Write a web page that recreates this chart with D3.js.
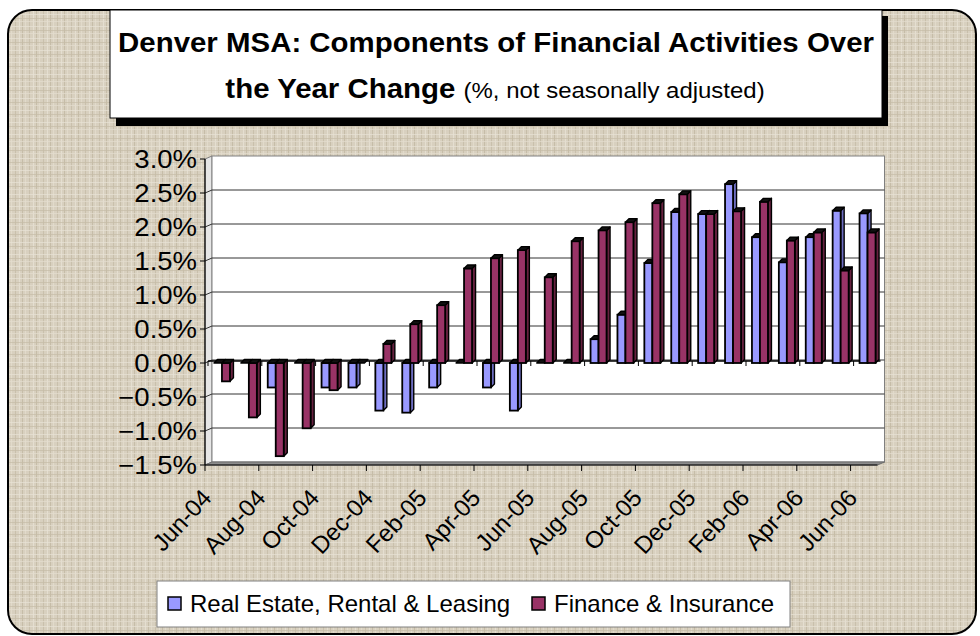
<!DOCTYPE html>
<html>
<head>
<meta charset="utf-8">
<script src="https://cdn.jsdelivr.net/npm/d3@7"></script>
<style>
  html, body { margin: 0; padding: 0; background: #fff; }
  svg { display: block; font-family: "Liberation Sans", Arial, sans-serif; }
</style>
</head>
<body>
<div id="chart"></div>
<script>
const categories = [
    "Jun-04", "Jul-04", "Aug-04", "Sep-04", "Oct-04", "Nov-04", "Dec-04",
    "Jan-05", "Feb-05", "Mar-05", "Apr-05", "May-05", "Jun-05", "Jul-05",
    "Aug-05", "Sep-05", "Oct-05", "Nov-05", "Dec-05",
    "Jan-06", "Feb-06", "Mar-06", "Apr-06", "May-06", "Jun-06"
];
// over the year change, percent
const realEstate = [
    0, 0, -0.36, 0, -0.36, -0.36, -0.7,
    -0.73, -0.36, 0, -0.36, -0.7, 0, 0,
    0.35, 0.71, 1.47, 2.22, 2.19,
    2.63, 1.85, 1.48, 1.85, 2.24, 2.2
];
const finance = [
    -0.27, -0.8, -1.37, -0.96, -0.4, 0, 0.28,
    0.57, 0.85, 1.39, 1.54, 1.66, 1.26, 1.79,
    1.95, 2.07, 2.35, 2.48, 2.19,
    2.23, 2.37, 1.8, 1.92, 1.36, 1.92
];
const yTicks = [-1.5, -1, -0.5, 0, 0.5, 1, 1.5, 2, 2.5, 3];
const seriesNames = ["Real Estate, Rental & Leasing", "Finance & Insurance"];
const seriesColors = ["#9999ff", "#993366"];
const sideColors = ["#6d6dc0", "#66213f"];

const W = 980, H = 636;
const wallDx = 7, wallDy = -3;   // back wall offset from the front axes
const depth = 3.5;               // bar depth
const barW = 8;

const svg = d3.select("#chart").append("svg")
    .attr("width", W).attr("height", H);

// linen texture
const defs = svg.append("defs");
const pat = defs.append("pattern")
    .attr("id", "linen").attr("patternUnits", "userSpaceOnUse")
    .attr("width", 14).attr("height", 12);
pat.append("rect").attr("width", 14).attr("height", 12).attr("fill", "#d8d0bf");
[[1, "#c6bca8"], [5, "#e7e1d4"], [8, "#c2b8a3"], [11, "#e3dccd"]].forEach(([x, c]) => {
    pat.append("rect").attr("x", x).attr("y", 0).attr("width", 1).attr("height", 12).attr("fill", c).attr("opacity", 0.8);
});
[[2, "#e9e3d6"], [6, "#c6bca7"], [9, "#e4ddcf"]].forEach(([y, c]) => {
    pat.append("rect").attr("x", 0).attr("y", y).attr("width", 14).attr("height", 1).attr("fill", c).attr("opacity", 0.7);
});

svg.append("rect")
    .attr("x", 8).attr("y", 10).attr("width", 968).attr("height", 624)
    .attr("rx", 24).attr("ry", 24)
    .attr("fill", "url(#linen)").attr("stroke", "#000").attr("stroke-width", 2);

// title box
svg.append("rect").attr("x", 116).attr("y", 16).attr("width", 772).attr("height", 110).attr("fill", "#000");
svg.append("rect").attr("x", 110).attr("y", 10).attr("width", 772).attr("height", 108)
    .attr("fill", "#fff").attr("stroke", "#000").attr("stroke-width", 1);

svg.append("text")
    .attr("transform", "translate(496,52) scale(1.09,1)")
    .attr("text-anchor", "middle")
    .attr("font-size", 27).attr("font-weight", "bold")
    .text("Denver MSA: Components of Financial Activities Over");

const sub = svg.append("text")
    .attr("transform", "translate(495,98) scale(1.09,1)")
    .attr("text-anchor", "middle");
sub.append("tspan").attr("font-size", 27).attr("font-weight", "bold").text("the Year Change ");
sub.append("tspan").attr("font-size", 22).text("(%, not seasonally adjusted)");

// scales (front plane)
const x = d3.scaleBand().domain(categories).range([205, 877.5]);
const y = d3.scaleLinear().domain([-1.5, 3]).range([465, 159]);
const x0 = x.range()[0], x1 = x.range()[1];
const yb = y(-1.5), yt = y(3);

const plot = svg.append("g");

// left wall
plot.append("polygon")
    .attr("points", [[x0, yt], [x0 + wallDx, yt + wallDy], [x0 + wallDx, yb + wallDy], [x0, yb]].join(" "))
    .attr("fill", "#e6e6e6").attr("stroke", "#808080");
// back wall
plot.append("rect")
    .attr("x", x0 + wallDx).attr("y", yt + wallDy)
    .attr("width", x1 - x0).attr("height", yb - yt)
    .attr("fill", "#fff").attr("stroke", "#808080");
// floor
plot.append("polygon")
    .attr("points", [[x0, yb], [x0 + wallDx, yb + wallDy], [x1 + wallDx, yb + wallDy], [x1, yb]].join(" "))
    .attr("fill", "#8c8c8c").attr("stroke", "#6e6e6e");

// gridlines on left and back walls
const grid = yTicks.filter(v => v > -1.5 && v < 3);
plot.selectAll(".grid").data(grid).join("polyline")
    .attr("points", v => [[x0, y(v)], [x0 + wallDx, y(v) + wallDy], [x1 + wallDx, y(v) + wallDy]].join(" "))
    .attr("fill", "none").attr("stroke", "#333").attr("stroke-width", 1);

// category axis through zero with ticks every second month
const evenBounds = d3.range(0, categories.length + 1, 2).map(i => x0 + i * x.bandwidth());
const zy = y(0) - 2;
plot.append("line")
    .attr("x1", x0 + 3).attr("x2", x1 + 3).attr("y1", zy).attr("y2", zy)
    .attr("stroke", "#000").attr("stroke-width", 1.5);
plot.selectAll(".ztick").data(evenBounds).join("line")
    .attr("x1", d => d + 3).attr("x2", d => d + 3).attr("y1", zy).attr("y2", zy + 5)
    .attr("stroke", "#000");

// 3D bars, drawn left to right so faces overlap correctly
const bars = [];
categories.forEach((c, i) => {
    const cx = x(c) + x.bandwidth() / 2;
    bars.push({ c, v: realEstate[i], s: 0, left: cx - 4.5 });
    bars.push({ c, v: finance[i], s: 1, left: cx - 4.5 + barW });
});

const barG = plot.selectAll(".bar").data(bars).join("g");
barG.each(function (d) {
    const g = d3.select(this);
    const top = y(Math.max(d.v, 0)), bot = y(Math.min(d.v, 0));
    const l = d.left, r = d.left + barW;
    if (bot - top > 0.5) {
        g.append("polygon")
            .attr("points", [[r, top], [r + depth, top - depth], [r + depth, bot - depth], [r, bot]].join(" "))
            .attr("fill", sideColors[d.s]).attr("stroke", "#000").attr("stroke-width", 1.4)
            .attr("stroke-linejoin", "round");
        g.append("rect")
            .attr("x", l).attr("y", top).attr("width", barW).attr("height", bot - top)
            .attr("fill", seriesColors[d.s]).attr("stroke", "#000").attr("stroke-width", 1.8);
    }
    g.append("polygon")
        .attr("points", [[l, top], [l + depth, top - depth], [r + depth, top - depth], [r, top]].join(" "))
        .attr("fill", "#111").attr("stroke", "#000").attr("stroke-width", 1.4)
        .attr("stroke-linejoin", "round");
});

// value axis
plot.append("line").attr("x1", x0).attr("x2", x0).attr("y1", yt).attr("y2", yb)
    .attr("stroke", "#000").attr("stroke-width", 1.2);
plot.selectAll(".ytick").data(yTicks).join("line")
    .attr("x1", x0 - 5).attr("x2", x0).attr("y1", d => y(d)).attr("y2", d => y(d))
    .attr("stroke", "#000");
plot.selectAll(".ylab").data(yTicks).join("text")
    .attr("transform", d => `translate(197,${y(d)}) scale(1.1,1)`)
    .attr("text-anchor", "end").attr("dy", "0.36em")
    .attr("font-size", 25)
    .text(d => d3.format(".1%")(d / 100));

// bottom category axis
plot.append("line").attr("x1", x0).attr("x2", x1).attr("y1", yb).attr("y2", yb)
    .attr("stroke", "#000").attr("stroke-width", 1.2);
plot.selectAll(".btick").data(evenBounds).join("line")
    .attr("x1", d => d).attr("x2", d => d).attr("y1", yb).attr("y2", yb + 6)
    .attr("stroke", "#000");
plot.selectAll(".xlab").data(categories.filter((c, i) => i % 2 === 0)).join("text")
    .attr("transform", d => `translate(${x(d) + x.bandwidth() / 2 - 5.5},499) rotate(-47)`)
    .attr("text-anchor", "end")
    .attr("font-size", 24)
    .text(d => d);

// legend
const leg = svg.append("g");
leg.append("rect").attr("x", 157).attr("y", 581).attr("width", 633).attr("height", 46)
    .attr("fill", "#fff").attr("stroke", "#808080");
const legX = [168, 532];
seriesNames.forEach((n, i) => {
    leg.append("rect").attr("x", legX[i]).attr("y", 597).attr("width", 13).attr("height", 13)
        .attr("fill", seriesColors[i]).attr("stroke", "#000").attr("stroke-width", 1.5);
    leg.append("text").attr("x", legX[i] + 22).attr("y", 612)
        .attr("font-size", 24).text(n);
});
</script>
</body>
</html>
